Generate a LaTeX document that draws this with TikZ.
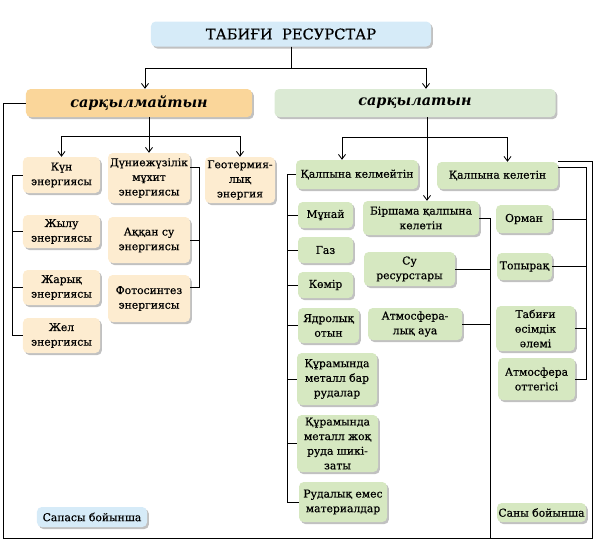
\documentclass[tikz,border=0pt]{standalone}
\usepackage{fontspec}
\setmainfont{DejaVu Serif}
\newfontfamily\boxfont{DejaVu Serif}[FakeBold=0.5]
\usepackage{tikz}
\usetikzlibrary{positioning}
\usetikzlibrary{shadows,arrows.meta}
\usepackage{color}
\definecolor{skyfill}{RGB}{214,235,248}
\definecolor{peachhead}{RGB}{250,214,154}
\definecolor{peachfill}{RGB}{253,236,208}
\definecolor{mintfill}{RGB}{219,234,212}
\definecolor{leaffill}{RGB}{214,232,193}

\begin{document}
\begin{tikzpicture}
    [
      x = 0.03cm, y = -0.03cm,
      box/.style = {rounded corners = 4pt, align = center, inner sep = 1pt,
          font = \boxfont\fontsize{9.2}{12.5}\selectfont,
          drop shadow = {shadow xshift = 1.6pt, shadow yshift = -1.8pt, opacity = 0.35, fill = black!70}},
      sunbox/.style = {box, fill = peachfill},
      leafbox/.style = {box, fill = leaffill},
      skybox/.style = {box, fill = skyfill},
      headbox/.style = {box, font = \fontsize{12.3}{15}\selectfont\bfseries\itshape},
      wire/.style = {line width = 0.7pt},
      arr/.style = {wire, -{Straight Barb[length = 4pt, width = 6pt]}},
    ]

    \useasboundingbox (0,0) rectangle (600,553);

    \node[skybox, font = \boxfont\fontsize{12.5}{14}\selectfont, minimum width = 8.4cm, minimum height = 0.75cm] (title) at (291,34) {ТАБИҒИ\ \ РЕСУРСТАР};

    \node[headbox, fill = peachhead, minimum width = 6.78cm, minimum height = 0.84cm] (unlim) at (139,103) {сарқылмайтын};
    \node[headbox, fill = mintfill, minimum width = 8.43cm, minimum height = 0.84cm] (lim) at (415,103) {сарқылатын};

    \node[sunbox, minimum width = 2.31cm, minimum height = 1.08cm] (sun) at (61.5,175) {Күн\\энергиясы};
    \node[sunbox, minimum width = 2.31cm, minimum height = 0.99cm] (heat) at (61.5,231.5) {Жылу\\энергиясы};
    \node[sunbox, minimum width = 2.31cm, minimum height = 1.05cm] (light) at (61.5,287.5) {Жарық\\энергиясы};
    \node[sunbox, minimum width = 2.31cm, minimum height = 1.05cm] (wind) at (61.5,335.5) {Жел\\энергиясы};
    \node[sunbox, minimum width = 2.46cm, minimum height = 1.5cm] (ocean) at (149,178) {Дүниежүзілік\\мұхит\\энергиясы};
    \node[sunbox, minimum width = 2.46cm, minimum height = 1.38cm] (river) at (149,240) {Аққан су\\энергиясы};
    \node[sunbox, minimum width = 2.46cm, minimum height = 1.41cm] (photo) at (149,298.5) {Фотосинтез\\энергиясы};
    \node[sunbox, minimum width = 2.1cm, minimum height = 1.38cm] (geo) at (240,180) {Геотермия-\\лық\\энергия};

    \node[leafbox, minimum width = 3.66cm, minimum height = 0.87cm] (nonren) at (357,174.5) {Қалпына келмейтін};
    \node[leafbox, minimum width = 3.63cm, minimum height = 0.81cm] (ren) at (497.5,175.5) {Қалпына келетін};
    \node[leafbox, minimum width = 3.48cm, minimum height = 1.02cm] (partren) at (421,218) {Біршама қалпына\\келетін};

    \node[leafbox, minimum width = 1.65cm, minimum height = 0.78cm] (oil) at (325.5,215) {Мұнай};
    \node[leafbox, minimum width = 1.65cm, minimum height = 0.78cm] (gas) at (325.5,250) {Газ};
    \node[leafbox, minimum width = 1.65cm, minimum height = 0.78cm] (coal) at (325.5,285) {Көмір};
    \node[leafbox, minimum width = 1.83cm, minimum height = 1.05cm] (nuc) at (328.5,325.5) {Ядролық\\отын};
    \node[leafbox, minimum width = 2.4cm, minimum height = 1.56cm] (metal) at (337,379) {Құрамында\\металл бар\\рудалар};
    \node[leafbox, minimum width = 2.43cm, minimum height = 1.71cm] (nometal) at (337.5,443.5) {Құрамында\\металл жоқ\\руда шикі-\\заты};
    \node[leafbox, minimum width = 2.64cm, minimum height = 1.2cm] (nonore) at (343,502) {Рудалық емес\\материалдар};

    \node[leafbox, minimum width = 2.73cm, minimum height = 1.02cm] (water) at (409.5,269) {Су\\ресурстары};
    \node[leafbox, minimum width = 2.82cm, minimum height = 0.96cm] (air) at (415,324) {Атмосфера-\\лық ауа};

    \node[leafbox, minimum width = 1.68cm, minimum height = 0.84cm] (forest) at (524,219) {Орман};
    \node[leafbox, minimum width = 1.65cm, minimum height = 0.81cm] (soil) at (524.5,266.5) {Топырақ};
    \node[leafbox, minimum width = 2.37cm, minimum height = 1.35cm] (flora) at (535.5,328.5) {Табиғи\\өсімдік\\әлемі};
    \node[leafbox, minimum width = 2.31cm, minimum height = 1.26cm] (oxy) at (536.5,379) {Атмосфера\\оттегісі};

    \node[leafbox, minimum width = 2.67cm, minimum height = 0.57cm] (quant) at (541.5,512.5) {Саны бойынша};
    \node[skybox, minimum width = 3.3cm, minimum height = 0.6cm] (qual) at (92,517) {Сапасы бойынша};

    \coordinate (obr) at (12,0);
    \coordinate (ubr) at (199,0);
    \coordinate (gbr) at (287,0);
    \coordinate (mbr) at (490,0);
    \coordinate (rbr) at (586,0);
    \coordinate (fl) at (3,538);
    \coordinate (fr) at (592,538);

    \draw[arr] (title.south) -- ++(0,22) -| ([shift = {(6,0)}]unlim.north);
    \draw[arr] (title.south) -- ++(0,22) -| ([shift = {(11,0)}]lim.north);

    \draw[arr] (unlim.south -| ocean.north) -- (ocean.north);
    \draw[arr] (ocean.north) ++(0,-16) -| (sun.north);
    \draw[arr] (ocean.north) ++(0,-16) -| (geo.north);

    \draw[arr] (lim.south -| partren.north) ++(6,0) -- ([shift = {(6,0)}]partren.north);
    \draw[arr] (lim.south -| partren.north) ++(6,20) -| ([shift = {(-15,0)}]nonren.north);
    \draw[arr] (lim.south -| partren.north) ++(6,20) -| ([shift = {(10,0)}]ren.north);

    \draw[wire] (sun.west) -| (obr |- wind.west) -- (wind.west);
    \draw[wire] (heat.west) -- (heat.west -| obr);
    \draw[wire] (light.west) -- (light.west -| obr);

    \draw[wire] (ocean.15) -| (ubr |- photo.15) -- (photo.15);
    \draw[wire] (river.east) -- (river.east -| ubr);

    \draw[wire] (nonren.west) -| (gbr |- nonore.west) -- (nonore.west);
    \draw[wire] (oil.west) -- (oil.west -| gbr);
    \draw[wire] (gas.west) -- (gas.west -| gbr);
    \draw[wire] (coal.west) -- (coal.west -| gbr);
    \draw[wire] (nuc.west) -- (nuc.west -| gbr);
    \draw[wire] (metal.west) -- (metal.west -| gbr);
    \draw[wire] (nometal.west) -- (nometal.west -| gbr);

    \draw[wire] (partren.east) -| (mbr |- fl);
    \draw[wire] (water.east) -- (water.east -| mbr);
    \draw[wire] (air.east) -- (air.east -| mbr);

    \draw[wire] (ren.8) -| (rbr |- oxy.east) -- (oxy.east);
    \draw[wire] (forest.east) -- (forest.east -| rbr);
    \draw[wire] (soil.east) -- (soil.east -| rbr);
    \draw[wire] (flora.east) -- (flora.east -| rbr);

    \draw[wire] (unlim.west) -| (fl) -- (fr) |- (ren.north east);

  \end{tikzpicture}
\end{document}
